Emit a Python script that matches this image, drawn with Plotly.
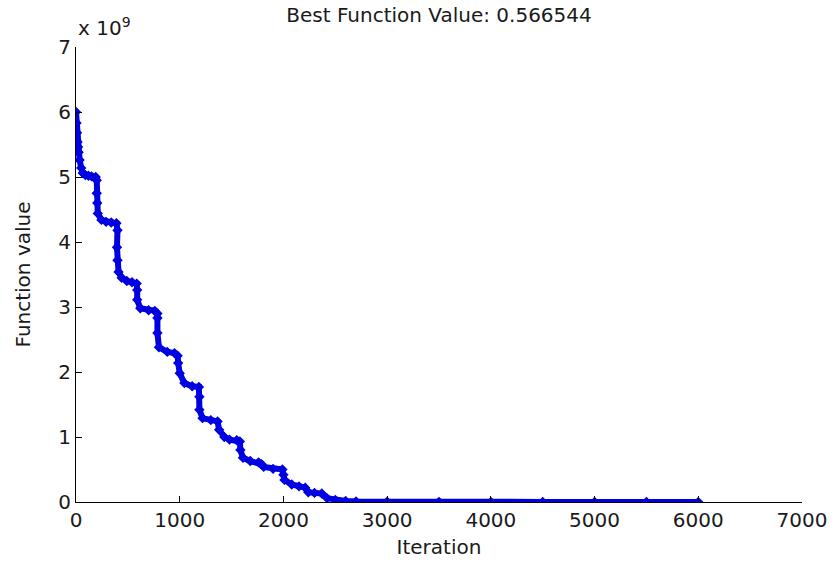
import plotly.graph_objects as go

# Iteration (x) and best function value (y, in raw units)
iterations = [0, 5, 10, 15, 20, 25, 35, 50, 65, 90, 120, 150, 190,
              200, 200, 205, 210, 245, 290, 340, 390,
              400, 395, 400, 410, 440, 490, 540, 585,
              590, 590, 620, 700, 760, 785, 785, 785, 800, 880, 950, 980,
              985, 1000, 1045, 1120, 1185,
              1190, 1190, 1220, 1300, 1365,
              1380, 1430, 1480, 1550, 1580,
              1585, 1610, 1680, 1760, 1790,
              1810, 1900, 1990,
              2000, 2010, 2080, 2150, 2210,
              2240, 2300, 2370,
              2420, 2500, 2600, 2700, 3000, 3500, 4000, 4500, 5000, 5500, 6000]
values_e9 = [6.0, 5.83, 5.68, 5.54, 5.46, 5.38, 5.26, 5.14, 5.06, 5.03, 5.02, 5.01, 5.0,
             4.95, 4.75, 4.6, 4.44, 4.34, 4.31, 4.30, 4.29,
             4.18, 3.92, 3.72, 3.54, 3.45, 3.40, 3.38, 3.36,
             3.26, 3.11, 2.98, 2.95, 2.94, 2.90, 2.83, 2.60, 2.38, 2.31, 2.29, 2.25,
             2.14, 1.98, 1.83, 1.78, 1.77,
             1.62, 1.42, 1.29, 1.26, 1.24,
             1.11, 1.00, 0.96, 0.95, 0.93,
             0.80, 0.68, 0.63, 0.61, 0.58,
             0.54, 0.51, 0.50,
             0.42, 0.34, 0.27, 0.24, 0.22,
             0.15, 0.14, 0.13,
             0.06, 0.03, 0.015, 0.008, 0.004, 0.002, 0.001, 0.0008, 0.0006, 0.0006, 0.0006]
values = [v * 1e9 for v in values_e9]

x_ticks = [0, 1000, 2000, 3000, 4000, 5000, 6000, 7000]
y_tick_units = [0, 1, 2, 3, 4, 5, 6, 7]
y_ticks = [u * 1e9 for u in y_tick_units]
y_tick_text = [str(u) for u in y_tick_units]

title_text = "Best Function Value: 0.566544"
FONT = "DejaVu Sans"
BLUE = "#0000e0"
FS = 20

fig = go.Figure()
fig.add_trace(go.Scatter(
    x=iterations, y=values, mode="lines+markers",
    line=dict(color=BLUE, width=6),
    marker=dict(color=BLUE, size=8, symbol="diamond"),
    showlegend=False, hoverinfo="x+y",
))

fig.update_layout(
    width=835, height=565,
    margin=dict(l=76, r=33, t=47, b=63),
    paper_bgcolor="white", plot_bgcolor="white",
    font=dict(family=FONT, size=FS, color="#1a1a1a"),
    title=dict(text=title_text, x=0.5, xref="paper", xanchor="center",
               y=1 - 15 / 565, yanchor="middle", font=dict(size=FS, family=FONT)),
    xaxis=dict(range=[0, 7000], tickvals=x_ticks, ticktext=[str(t) for t in x_ticks],
               showgrid=False, zeroline=False, showline=True, linecolor="black", linewidth=1,
               ticks="inside", ticklen=6, tickcolor="black", mirror=False, automargin=False,
               title=dict(text="Iteration", standoff=8, font=dict(size=FS))),
    yaxis=dict(range=[0, 7e9], tickvals=y_ticks, ticktext=y_tick_text,
               showgrid=False, zeroline=False, showline=True, linecolor="black", linewidth=1,
               ticks="inside", ticklen=6, tickcolor="black", mirror=False, automargin=False,
               title=dict(text="Function value", standoff=22, font=dict(size=FS))),
)

fig.add_annotation(text="x 10<sup>9</sup>", xref="paper", yref="paper",
                   x=0, y=1 + 20 / 455, xanchor="left", yanchor="middle",
                   showarrow=False, font=dict(size=FS, family=FONT))

fig.write_html("out.html")
